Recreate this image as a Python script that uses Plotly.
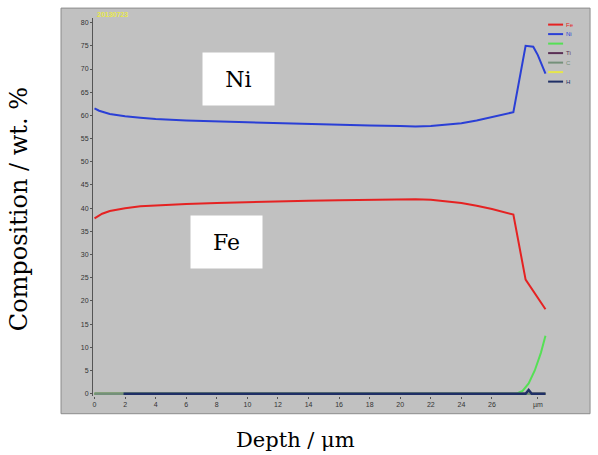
import plotly.graph_objects as go

# ---------------- data ----------------
ni_x = [0, 0.3, 1, 2, 3, 4, 6, 8, 10, 12, 14, 16, 18, 20, 21, 22, 23, 24, 25, 26, 27.4, 28.2, 28.7, 29.0, 29.5]
ni_y = [61.5, 61.0, 60.3, 59.8, 59.5, 59.2, 58.9, 58.7, 58.5, 58.3, 58.2, 58.0, 57.8, 57.7, 57.6, 57.7, 58.0, 58.3, 58.9, 59.6, 60.7, 75.0, 74.8, 73.0, 69.0]

fe_x = [0, 0.5, 1, 2, 3, 4, 6, 8, 10, 12, 14, 16, 18, 20, 21, 22, 23, 24, 25, 26, 27.4, 28.2, 29.5]
fe_y = [37.8, 38.8, 39.4, 40.0, 40.4, 40.6, 40.9, 41.1, 41.3, 41.4, 41.6, 41.7, 41.8, 41.9, 41.9, 41.8, 41.5, 41.1, 40.5, 39.8, 38.6, 24.6, 18.2]

green_x = [0, 27.6, 28.0, 28.4, 28.8, 29.2, 29.5]
green_y = [0, 0, 0.6, 2.2, 5.0, 8.8, 12.5]

base_x = [0, 29.5]
base_y = [0, 0]

h_x = [1.9, 28.2, 28.4, 28.6, 29.5]
h_y = [0, 0, 0.8, 0, 0]

x_ticks = [0, 2, 4, 6, 8, 10, 12, 14, 16, 18, 20, 22, 24, 26, 29]
x_ticktext = ["0", "2", "4", "6", "8", "10", "12", "14", "16", "18", "20", "22", "24", "26", "\u00b5m"]
y_ticks = list(range(0, 81, 5))

legend_names = ["Fe", "Ni", "", "Ti", "C", "", "H"]
legend_colors = ["#e52222", "#2a3fd6", "#55e055", "#5a2f55", "#74907a", "#e6e64a", "#1f2f66"]

# --------------- geometry ---------------
W, H = 598, 455
L, R = 92.5, 546.9   # plot area in px
T, B = 18.4, 396.3

def px(X):
    return (X - L) / (R - L)

def py(Y):
    return (B - Y) / (B - T)

fig = go.Figure()

line_w = 2
fig.add_trace(go.Scatter(x=base_x, y=base_y, mode="lines", line=dict(color=legend_colors[5], width=line_w), hoverinfo="skip"))
fig.add_trace(go.Scatter(x=base_x, y=base_y, mode="lines", line=dict(color=legend_colors[3], width=line_w), hoverinfo="skip"))
fig.add_trace(go.Scatter(x=green_x, y=green_y, mode="lines", line=dict(color=legend_colors[2], width=line_w), hoverinfo="skip"))
fig.add_trace(go.Scatter(x=base_x, y=base_y, mode="lines", line=dict(color=legend_colors[4], width=line_w + 0.5), hoverinfo="skip"))
fig.add_trace(go.Scatter(x=h_x, y=h_y, mode="lines", line=dict(color=legend_colors[6], width=line_w + 0.5), hoverinfo="skip"))
fig.add_trace(go.Scatter(x=fe_x, y=fe_y, mode="lines", line=dict(color=legend_colors[0], width=line_w), hoverinfo="skip"))
fig.add_trace(go.Scatter(x=ni_x, y=ni_y, mode="lines", line=dict(color=legend_colors[1], width=line_w), hoverinfo="skip"))

shapes = []
# gray instrument panel
shapes.append(dict(type="rect", xref="paper", yref="paper",
                   x0=px(60.5), x1=px(590), y0=py(414), y1=py(8.5),
                   fillcolor="#c1c1c1", line=dict(color="#8c8c8c", width=1), layer="below"))

annotations = []
# legend entries
for i, (name, col) in enumerate(zip(legend_names, legend_colors)):
    yy = 25 + i * 9.5
    shapes.append(dict(type="line", xref="paper", yref="paper",
                       x0=px(548), x1=px(563), y0=py(yy), y1=py(yy),
                       line=dict(color=col, width=2)))
    if name:
        annotations.append(dict(xref="paper", yref="paper", x=px(564), y=py(yy),
                                text=name, showarrow=False, xanchor="left", yanchor="middle",
                                font=dict(family="Arial", size=6, color=col)))

# yellow stamp text
annotations.append(dict(xref="paper", yref="paper", x=px(95), y=py(15), text="<b>20130723</b>",
                        showarrow=False, xanchor="left", yanchor="middle",
                        font=dict(family="Arial", size=7, color="#e8e84a")))

serif = "DejaVu Serif"
# element labels in white boxes
annotations.append(dict(x=9.44, y=67.9, xref="x", yref="y", text="Ni", showarrow=False,
                        bgcolor="white", width=69, height=50,
                        font=dict(family=serif, size=22, color="black")))
annotations.append(dict(x=8.66, y=32.8, xref="x", yref="y", text="Fe", showarrow=False,
                        bgcolor="white", width=69, height=50,
                        font=dict(family=serif, size=22, color="black")))

# axis titles
annotations.append(dict(xref="paper", yref="paper", x=px(295), y=py(440), text="Depth / \u03bcm",
                        showarrow=False, xanchor="center", yanchor="middle",
                        font=dict(family=serif, size=21, color="black")))
annotations.append(dict(xref="paper", yref="paper", x=px(18), y=py(210), text="Composition / wt. %",
                        showarrow=False, xanchor="center", yanchor="middle", textangle=-90,
                        font=dict(family=serif, size=24, color="black")))

fig.update_layout(
    width=W, height=H,
    margin=dict(l=L, r=W - R, t=T, b=H - B, pad=0),
    paper_bgcolor="white",
    plot_bgcolor="rgba(0,0,0,0)",
    showlegend=False,
    shapes=shapes,
    annotations=annotations,
    xaxis=dict(range=[-0.1, 29.6], tickvals=x_ticks, ticktext=x_ticktext,
               showgrid=False, zeroline=False, showline=False,
               ticks="outside", ticklen=2, tickcolor="#555",
               tickfont=dict(family="Arial", size=7, color="#333")),
    yaxis=dict(range=[-0.5, 81], tickvals=y_ticks,
               showgrid=False, zeroline=False, showline=True, linecolor="#555", linewidth=1,
               ticks="outside", ticklen=2, tickcolor="#555",
               tickfont=dict(family="Arial", size=7, color="#333")),
)

fig.write_html("out.html", config={"displayModeBar": False},
               post_script="document.body.style.margin='0px';")
